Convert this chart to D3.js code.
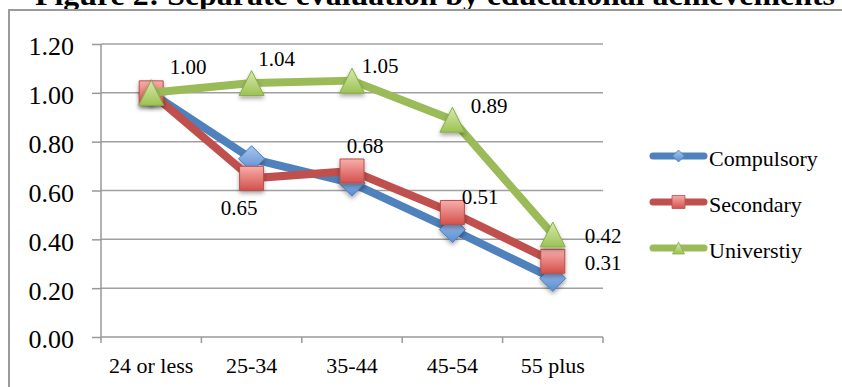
<!DOCTYPE html>
<html>
<head>
<meta charset="utf-8">
<script src="https://cdn.jsdelivr.net/npm/d3@7"></script>
<style>
  html, body { margin: 0; padding: 0; background: #fff; }
  svg { display: block; }
</style>
</head>
<body>
<svg id="chart" width="842" height="387"></svg>
<script>
// Relative evaluation by age group, split by education level
const categories = ["24 or less", "25-34", "35-44", "45-54", "55 plus"];
const compulsory = [1.00, 0.73, 0.63, 0.44, 0.24];
const secondary  = [1.00, 0.65, 0.68, 0.51, 0.31];
const university = [1.00, 1.04, 1.05, 0.89, 0.42];
const seriesNames = ["Compulsory", "Secondary", "Universtiy"];
const yTicks = [0.00, 0.20, 0.40, 0.60, 0.80, 1.00, 1.20];
const titleText = "Figure 2: Separate evaluation by educational achievements";

// Hand-placed data label offsets (dx, dy from the point), null = no label
const labelOffsets = [
  [null, null, null, null, null],
  [null, [-12.6, 36.7], [13, -18.3], [27.6, -8.5], [50.2, 8.7]],
  [[36.8, -18.8], [24.9, -17.1], [28, -7.9], [36.6, -7], [50.2, 8.9]]
];

const colors = ["#4F81BD", "#C0504D", "#9BBB59"];
const shapes = ["diamond", "square", "triangle"];
const serif = "'Liberation Serif', 'Times New Roman', serif";

const svg = d3.select("#chart");
const defs = svg.append("defs");

// Marker gradients
const grads = [
  ["gBlue",  "#a9c6ee", "#5a8cd2", "#4a7ebb"],
  ["gRed",   "#f7aeab", "#d4504c", "#b7504c"],
  ["gGreen", "#d8eab0", "#9cc253", "#89ad48"]
];
grads.forEach(([id, c1, c2]) => {
  const g = defs.append("linearGradient").attr("id", id)
    .attr("x1", 0).attr("y1", 0).attr("x2", 0).attr("y2", 1);
  g.append("stop").attr("offset", "0%").attr("stop-color", c1);
  g.append("stop").attr("offset", "100%").attr("stop-color", c2);
});
const shadow = defs.append("filter").attr("id", "shadow")
  .attr("x", "-50%").attr("y", "-50%").attr("width", "200%").attr("height", "200%");
shadow.append("feDropShadow").attr("dx", 0).attr("dy", 2.5)
  .attr("stdDeviation", 2).attr("flood-color", "#000").attr("flood-opacity", 0.35);

// Title (partly above the top edge)
svg.append("text")
  .attr("x", 35).attr("y", 5)
  .attr("font-family", serif).attr("font-weight", "bold").attr("font-size", 30)
  .attr("textLength", 800).attr("lengthAdjust", "spacingAndGlyphs")
  .attr("fill", "#000")
  .text(titleText);

// Chart frame
svg.append("rect")
  .attr("x", 9).attr("y", 10).attr("width", 900).attr("height", 500)
  .attr("fill", "#fff").attr("stroke", "#9a9a9a").attr("stroke-width", 2);

const x = d3.scaleBand().domain(categories).range([101, 603]).padding(0);
const y = d3.scaleLinear().domain([0, 1.2]).range([337, 44]);
const cx = d => x(d) + x.bandwidth() / 2;

// Gridlines
svg.append("g").selectAll("line").data(yTicks.filter(d => d > 0)).join("line")
  .attr("x1", 101).attr("x2", 603)
  .attr("y1", d => y(d)).attr("y2", d => y(d))
  .attr("stroke", "#a0a0a0").attr("stroke-width", 1.5);

// Y axis
const yAxis = svg.append("g").attr("transform", "translate(101,0)")
  .call(d3.axisLeft(y).tickValues(yTicks).tickSize(9).tickPadding(18)
    .tickFormat(d3.format(".2f")));
yAxis.select(".domain").attr("stroke", "#999").attr("stroke-width", 1.5)
  .attr("d", `M0,${y(1.2)}V${y(0)}`);
yAxis.selectAll(".tick line").attr("stroke", "#999").attr("stroke-width", 1.5);
yAxis.selectAll(".tick text")
  .attr("font-family", serif).attr("font-size", 26).attr("fill", "#000")
  .attr("dy", "0.42em");

// X axis
const xAxis = svg.append("g").attr("transform", `translate(0,${y(0)})`)
  .call(d3.axisBottom(x).tickSize(0).tickPadding(0));
xAxis.select(".domain").attr("stroke", "#999").attr("stroke-width", 1.5)
  .attr("d", `M101,0H603`);
xAxis.selectAll(".tick text")
  .attr("font-family", serif).attr("font-size", 22).attr("fill", "#000")
  .attr("y", 36).attr("dy", 0);
const bounds = categories.map(c => x(c)).concat([x(categories[categories.length - 1]) + x.bandwidth()]);
xAxis.append("g").selectAll("line").data(bounds).join("line")
  .attr("x1", d => d).attr("x2", d => d).attr("y1", 0).attr("y2", 6)
  .attr("stroke", "#999").attr("stroke-width", 1.5);

// Marker path generator
function markerPath(shape, s) {
  const h = s / 2;
  if (shape === "diamond") return `M0,${-h}L${h},0L0,${h}L${-h},0Z`;
  if (shape === "square") return `M${-h},${-h}H${h}V${h}H${-h}Z`;
  return `M0,${-h}L${h},${h}H${-h}Z`;
}
const markerSize = [26, 24, 25];
const legendMarkerSize = [12, 13, 12];

const allSeries = [compulsory, secondary, university];
const line = d3.line().x((d, i) => cx(categories[i])).y(d => y(d));

allSeries.forEach((vals, si) => {
  const g = svg.append("g");
  g.append("path").datum(vals)
    .attr("d", line).attr("fill", "none")
    .attr("stroke", colors[si]).attr("stroke-width", 8)
    .attr("stroke-linejoin", "round").attr("stroke-linecap", "butt");
  g.selectAll("path.m").data(vals).join("path").attr("class", "m")
    .attr("transform", (d, i) => `translate(${cx(categories[i])},${y(d)})`)
    .attr("d", markerPath(shapes[si], markerSize[si]))
    .attr("fill", `url(#${grads[si][0]})`)
    .attr("stroke", grads[si][3]).attr("stroke-width", 1)
    .attr("filter", "url(#shadow)");
});

// Data labels
allSeries.forEach((vals, si) => {
  svg.append("g").selectAll("text")
    .data(vals.map((v, i) => ({ v, i, off: labelOffsets[si][i] })).filter(d => d.off))
    .join("text")
    .attr("x", d => cx(categories[d.i]) + d.off[0])
    .attr("y", d => y(d.v) + d.off[1])
    .attr("text-anchor", "middle")
    .attr("font-family", serif).attr("font-size", 21).attr("fill", "#000")
    .text(d => d3.format(".2f")(d.v));
});

// Legend
const legend = svg.append("g");
seriesNames.forEach((name, si) => {
  const ly = 156 + si * 46;
  legend.append("line")
    .attr("x1", 653).attr("x2", 704).attr("y1", ly).attr("y2", ly)
    .attr("stroke", colors[si]).attr("stroke-width", 7).attr("stroke-linecap", "round");
  legend.append("path")
    .attr("transform", `translate(678.5,${ly})`)
    .attr("d", markerPath(shapes[si], legendMarkerSize[si]))
    .attr("fill", `url(#${grads[si][0]})`)
    .attr("stroke", grads[si][3]).attr("stroke-width", 0.8);
  legend.append("text")
    .attr("x", 709).attr("y", ly + 10)
    .attr("font-family", serif).attr("font-size", 22).attr("fill", "#000")
    .text(name);
});
</script>
</body>
</html>
